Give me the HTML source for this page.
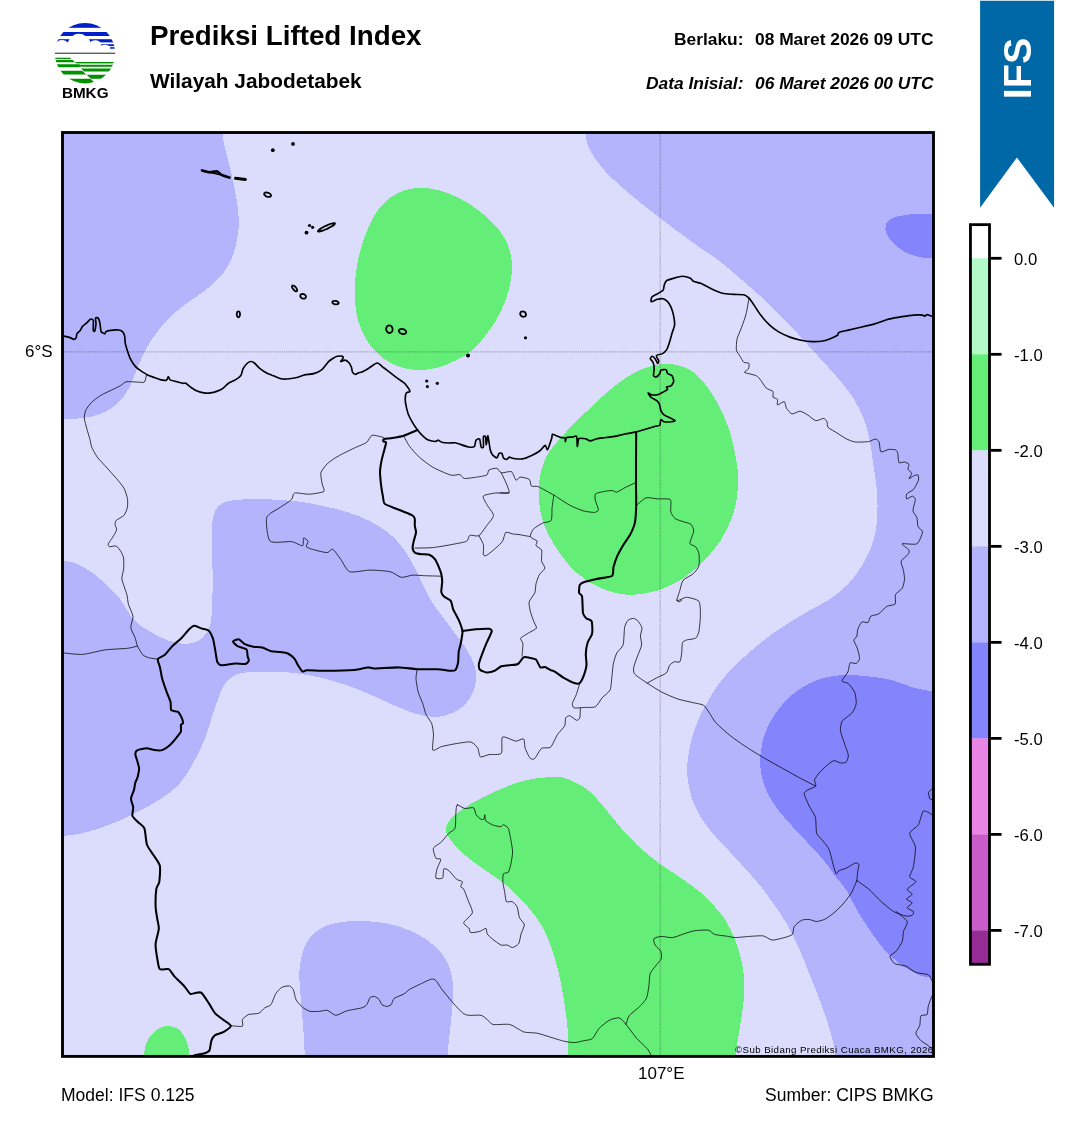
<!DOCTYPE html>
<html><head><meta charset="utf-8">
<style>
html,body{margin:0;padding:0;background:#fff;}
body{width:1068px;height:1128px;position:relative;overflow:hidden;font-family:"Liberation Sans",sans-serif;color:#000;}
.t{position:absolute;white-space:nowrap;line-height:1;will-change:transform;}
#map{will-change:transform;}
#map{position:absolute;left:0;top:0;}
</style></head><body>
<svg id="map" width="1068" height="1128" viewBox="0 0 1068 1128">
<defs><clipPath id="cp"><rect x="62" y="132" width="872" height="924"/></clipPath></defs>
<g clip-path="url(#cp)" shape-rendering="geometricPrecision">
<rect x="62" y="132" width="872" height="924" fill="#dcdcfc"/>
<path d="M40.0,100.0 C70.3,46.8 191.6,94.2 222.0,100.0 C252.4,105.8 222.0,125.8 222.7,134.5 C223.4,143.2 224.6,145.8 226.1,152.5 C227.6,159.2 230.0,167.4 231.7,174.9 C233.4,182.4 235.0,189.9 236.2,197.4 C237.4,204.9 238.7,213.2 238.9,219.9 C239.1,226.7 238.3,231.9 237.3,237.9 C236.3,243.9 235.2,249.8 232.8,255.8 C230.4,261.8 227.2,268.1 222.7,273.8 C218.2,279.5 211.8,285.0 206.0,289.8 C200.2,294.6 194.0,298.0 188.0,302.5 C182.0,307.0 175.3,312.0 170.1,317.0 C164.9,322.0 160.3,327.8 156.6,332.7 C152.8,337.6 150.2,341.7 147.6,346.2 C145.0,350.7 142.9,355.2 140.9,359.7 C138.9,364.2 137.2,368.6 135.3,373.1 C133.4,377.6 131.9,382.3 129.7,386.6 C127.4,390.9 124.8,395.4 121.8,399.0 C118.8,402.6 115.6,405.4 111.7,408.0 C107.8,410.6 103.1,413.0 98.2,414.7 C93.3,416.4 88.2,417.4 82.5,418.1 C76.8,418.9 71.1,419.0 64.0,419.2 C56.9,419.4 44.0,472.7 40.0,419.5 C36.0,366.3 9.7,153.2 40.0,100.0Z" fill="#b4b4fc" shape-rendering="crispEdges"/>
<path d="M585.0,100.0 C521.0,105.6 584.9,125.3 585.7,133.6 C586.5,141.9 586.8,143.8 590.0,150.0 C593.2,156.2 598.3,163.6 605.0,171.0 C611.7,178.4 621.2,186.7 630.4,194.5 C639.6,202.3 649.4,209.8 660.0,218.0 C670.6,226.2 684.3,236.4 694.0,243.4 C703.7,250.4 709.5,253.5 718.0,260.0 C726.5,266.5 736.7,275.4 744.9,282.5 C753.1,289.6 759.9,295.6 767.4,302.7 C774.9,309.8 782.4,317.3 789.9,325.2 C797.4,333.1 804.9,341.7 812.4,349.9 C819.9,358.1 828.1,366.7 834.8,374.6 C841.5,382.5 847.9,389.6 852.8,397.1 C857.7,404.6 861.2,412.5 864.0,419.6 C866.8,426.8 868.2,432.9 869.7,440.0 C871.2,447.1 871.9,455.0 873.0,462.5 C874.1,470.0 875.6,477.4 876.4,484.9 C877.1,492.4 877.6,499.9 877.5,507.4 C877.4,514.9 877.1,523.1 876.0,529.9 C874.9,536.6 873.2,541.9 870.8,547.9 C868.4,553.9 865.5,559.8 861.8,565.8 C858.0,571.8 853.8,578.1 848.3,583.8 C842.8,589.5 834.9,595.6 828.5,600.0 C822.1,604.4 816.0,606.7 809.8,610.3 C803.6,613.9 797.3,617.6 791.1,621.5 C784.9,625.4 778.6,629.2 772.4,633.7 C766.1,638.2 759.9,643.4 753.6,648.7 C747.4,654.0 740.5,659.9 734.9,665.5 C729.3,671.1 724.4,676.5 719.9,682.4 C715.4,688.3 711.4,694.9 707.8,701.1 C704.2,707.4 701.1,713.6 698.4,719.9 C695.7,726.1 693.5,732.4 691.8,738.6 C690.1,744.8 688.9,751.7 688.1,757.3 C687.3,762.9 687.1,767.3 687.2,772.3 C687.4,777.3 687.8,781.9 689.0,787.3 C690.2,792.7 691.8,799.2 694.3,804.9 C696.8,810.6 700.3,816.6 703.7,821.7 C707.1,826.9 711.2,831.4 714.9,835.8 C718.6,840.2 722.4,843.8 726.1,847.9 C729.9,852.0 733.6,856.0 737.4,860.1 C741.1,864.2 744.9,868.1 748.6,872.3 C752.4,876.5 756.0,880.5 759.9,885.4 C763.8,890.3 767.5,895.2 772.0,901.6 C776.5,908.0 782.4,916.0 786.9,923.9 C791.4,931.8 795.6,940.5 799.3,948.8 C803.0,957.1 805.9,965.3 809.2,973.6 C812.5,981.9 816.0,990.1 819.1,998.4 C822.2,1006.7 825.3,1015.3 827.8,1023.2 C830.3,1031.1 832.8,1040.3 834.0,1045.6 C835.2,1050.9 835.0,1047.6 835.3,1055.0 C835.6,1062.4 813.5,1084.2 836.0,1090.0 C858.5,1095.8 947.7,1255.0 970.0,1090.0 C992.3,925.0 1034.2,265.0 970.0,100.0 C905.8,-65.0 649.0,94.4 585.0,100.0Z" fill="#b4b4fc" shape-rendering="crispEdges"/>
<path d="M960.0,213.9 C955.4,206.6 939.8,213.9 932.2,213.9 C924.6,213.9 918.9,213.7 914.3,213.9 C909.7,214.1 907.6,214.9 904.7,215.3 C901.8,215.7 898.8,216.0 896.7,216.5 C894.6,217.0 893.4,217.5 891.9,218.3 C890.4,219.1 888.9,220.0 887.9,221.1 C886.9,222.2 886.3,223.9 885.9,225.1 C885.5,226.3 885.5,227.4 885.5,228.5 C885.5,229.6 885.4,230.1 885.9,231.5 C886.4,232.9 887.2,235.2 888.3,237.1 C889.4,239.0 891.0,241.0 892.7,242.7 C894.4,244.4 896.3,246.0 898.3,247.5 C900.3,249.0 902.4,250.6 904.7,251.8 C907.0,253.1 909.5,254.1 911.9,255.0 C914.3,255.9 916.9,256.5 919.1,257.0 C921.4,257.5 923.2,257.6 925.4,257.8 C927.6,258.0 926.4,258.0 932.2,258.0 C938.0,258.0 955.4,265.4 960.0,258.0 C964.6,250.7 964.6,221.2 960.0,213.9Z" fill="#8484fc" shape-rendering="crispEdges"/>
<path d="M970.0,700.0 C963.8,651.6 942.0,693.8 932.6,691.7 C923.2,689.6 920.4,689.6 913.5,687.6 C906.6,685.6 898.5,681.7 891.0,679.8 C883.5,677.9 875.8,677.2 868.5,676.4 C861.2,675.6 854.0,675.1 847.3,675.2 C840.6,675.3 834.8,675.4 828.5,676.8 C822.2,678.1 816.0,680.2 809.8,683.3 C803.6,686.4 796.7,690.6 791.1,695.5 C785.5,700.4 780.3,706.5 776.1,712.4 C771.9,718.3 768.3,724.9 765.8,731.1 C763.3,737.3 762.0,744.2 761.1,749.8 C760.2,755.4 759.9,759.5 760.2,764.8 C760.5,770.1 761.5,776.3 763.0,781.6 C764.5,786.9 766.9,791.7 769.5,796.5 C772.1,801.3 775.2,806.0 778.6,810.5 C782.0,815.0 785.8,819.1 789.8,823.6 C793.8,828.1 798.5,832.9 802.9,837.6 C807.3,842.3 811.9,847.2 816.0,851.7 C820.1,856.2 823.9,860.4 827.3,864.8 C830.7,869.2 833.4,873.7 836.6,877.9 C839.8,882.1 843.1,884.8 846.4,890.0 C849.7,895.2 852.7,902.6 856.4,909.1 C860.1,915.6 864.2,922.3 868.8,928.9 C873.3,935.5 878.3,942.8 883.7,948.8 C889.1,954.8 895.2,960.6 901.0,964.9 C906.8,969.2 913.2,972.6 918.4,974.8 C923.6,976.9 923.5,976.6 932.1,977.8 C940.7,979.0 963.7,1028.3 970.0,982.0 C976.3,935.7 976.2,748.4 970.0,700.0Z" fill="#8484fc" shape-rendering="crispEdges"/>
<path d="M40.0,560.0 C44.0,514.0 58.4,560.9 64.0,561.3 C69.6,561.7 69.7,561.2 73.5,562.5 C77.3,563.8 82.5,566.4 87.0,569.2 C91.5,572.0 95.9,575.4 100.4,579.3 C104.9,583.2 110.5,589.3 113.9,592.8 C117.3,596.2 117.3,595.4 120.7,600.0 C124.1,604.6 129.3,615.0 134.2,620.2 C139.1,625.5 144.3,628.1 149.9,631.5 C155.5,634.9 162.3,638.4 167.9,640.4 C173.5,642.4 178.7,643.6 183.6,643.8 C188.5,644.0 193.3,643.3 197.1,641.6 C200.8,639.9 203.8,636.9 206.1,633.7 C208.3,630.5 209.5,628.1 210.6,622.5 C211.7,616.9 212.1,611.7 212.4,600.0 C212.7,588.3 212.5,564.1 212.4,552.4 C212.3,540.7 211.4,536.3 211.7,529.9 C211.9,523.5 212.6,518.3 213.9,514.2 C215.2,510.1 216.8,507.4 219.6,505.2 C222.4,502.9 225.6,501.7 230.8,500.7 C236.0,499.7 243.9,499.3 251.0,499.1 C258.1,498.9 264.9,499.1 273.5,499.6 C282.1,500.1 293.9,500.9 302.5,502.0 C311.1,503.1 317.4,504.8 324.9,506.5 C332.4,508.2 339.9,509.7 347.4,512.1 C354.9,514.5 363.1,517.7 369.9,521.1 C376.6,524.5 382.7,528.3 387.9,532.4 C393.1,536.5 397.2,540.6 401.3,545.8 C405.4,551.0 408.9,557.0 412.6,563.8 C416.4,570.5 420.8,580.3 423.8,586.3 C426.8,592.3 427.6,595.1 430.6,600.0 C433.6,604.9 437.7,610.1 441.8,615.7 C445.9,621.3 451.2,628.1 455.3,633.7 C459.4,639.3 463.3,644.1 466.5,649.4 C469.7,654.6 472.8,660.0 474.4,665.2 C476.0,670.5 476.6,675.7 476.0,680.9 C475.4,686.1 473.7,691.9 471.0,696.6 C468.3,701.3 463.9,705.9 459.8,709.0 C455.7,712.1 450.8,713.8 446.3,715.1 C441.8,716.4 438.1,717.2 432.8,716.9 C427.6,716.6 421.5,715.6 414.8,713.5 C408.1,711.4 399.9,707.7 392.4,704.5 C384.9,701.3 377.4,697.6 369.9,694.4 C362.4,691.2 354.9,688.0 347.4,685.4 C339.9,682.8 332.4,680.6 324.9,678.7 C317.4,676.8 310.0,675.3 302.5,674.2 C295.0,673.1 289.3,672.2 280.0,671.9 C270.7,671.6 254.3,671.6 246.5,672.4 C238.7,673.1 236.8,674.2 233.0,676.4 C229.2,678.6 226.6,681.3 224.0,685.4 C221.4,689.5 219.5,695.1 217.3,701.1 C215.1,707.1 212.8,714.5 210.6,721.3 C208.3,728.0 206.8,734.5 203.8,741.6 C200.8,748.7 196.7,756.9 192.6,764.0 C188.5,771.1 184.5,778.4 179.1,784.3 C173.7,790.2 167.6,794.3 160.2,799.2 C152.8,804.1 142.9,809.2 134.5,813.5 C126.1,817.8 117.9,821.5 109.6,824.7 C101.3,827.9 92.3,830.8 84.8,832.6 C77.3,834.5 72.0,835.1 64.5,835.8 C57.0,836.5 44.1,883.0 40.0,837.0 C35.9,791.0 36.0,606.0 40.0,560.0Z" fill="#b4b4fc" shape-rendering="crispEdges"/>
<path d="M305.0,1090.0 C281.5,1084.2 305.2,1067.4 304.8,1055.0 C304.4,1042.6 303.2,1028.5 302.3,1015.8 C301.4,1003.1 299.6,988.1 299.4,978.6 C299.2,969.1 299.8,964.9 301.1,958.7 C302.4,952.5 304.2,946.3 307.3,941.3 C310.4,936.3 314.7,932.0 319.7,928.9 C324.7,925.8 330.1,924.0 337.1,922.7 C344.1,921.4 353.6,920.9 361.9,921.0 C370.2,921.1 378.8,922.0 386.7,923.5 C394.6,925.0 402.1,927.2 409.1,930.2 C416.1,933.2 423.1,937.0 428.9,941.3 C434.7,945.6 440.1,950.8 443.8,956.2 C447.5,961.6 449.7,967.4 451.3,973.6 C452.9,979.8 453.2,986.0 453.2,993.4 C453.2,1000.8 452.2,1008.0 451.3,1018.3 C450.4,1028.6 448.4,1043.0 447.5,1055.0 C446.6,1067.0 469.8,1084.2 446.0,1090.0 C422.2,1095.8 328.5,1095.8 305.0,1090.0Z" fill="#b4b4fc" shape-rendering="crispEdges"/>
<path d="M420.9,188.0 C415.3,188.0 410.4,188.5 405.2,190.2 C399.9,191.9 394.3,194.3 389.4,198.1 C384.5,201.8 379.7,207.3 376.0,212.7 C372.3,218.1 369.6,224.3 367.0,230.7 C364.4,237.1 362.0,244.2 360.2,250.9 C358.4,257.6 357.1,264.4 356.2,271.1 C355.3,277.8 354.6,284.6 354.6,291.3 C354.6,298.1 355.1,305.2 356.2,311.6 C357.3,318.0 358.9,324.0 361.3,329.6 C363.7,335.2 366.6,340.4 370.3,345.3 C374.1,350.2 378.7,355.1 383.8,358.8 C388.9,362.5 394.9,365.4 400.7,367.3 C406.5,369.2 412.7,369.9 418.7,370.0 C424.7,370.1 430.6,369.3 436.6,367.8 C442.6,366.3 448.6,364.0 454.6,361.0 C460.6,358.0 467.0,354.7 472.6,349.8 C478.2,344.9 483.6,338.2 488.3,331.8 C493.0,325.4 497.3,318.4 500.7,311.6 C504.1,304.9 506.6,298.1 508.5,291.3 C510.4,284.6 511.6,277.5 511.9,271.1 C512.2,264.7 511.6,258.7 510.3,253.1 C509.0,247.5 506.9,242.4 504.0,237.4 C501.1,232.4 497.3,227.5 492.8,222.8 C488.3,218.1 482.7,213.4 477.1,209.3 C471.5,205.2 465.5,201.3 459.1,198.1 C452.7,194.9 445.3,191.9 438.9,190.2 C432.5,188.5 426.5,188.0 420.9,188.0Z" fill="#64ee78" shape-rendering="crispEdges"/>
<path d="M666.5,363.8 C662.4,363.7 660.2,364.0 655.3,365.2 C650.4,366.4 644.0,367.8 637.3,371.2 C630.5,374.6 622.3,380.0 614.8,385.8 C607.3,391.6 598.4,400.5 592.4,406.0 C586.4,411.5 583.3,414.7 578.9,419.0 C574.5,423.3 569.6,428.2 566.0,432.0 C562.4,435.8 559.8,438.7 557.0,442.0 C554.2,445.3 551.1,448.7 549.0,452.0 C546.9,455.3 545.7,458.0 544.2,462.0 C542.7,466.0 540.9,470.7 540.0,476.0 C539.1,481.3 538.6,487.5 538.7,493.9 C538.9,500.3 539.3,507.5 540.9,514.2 C542.5,521.0 545.0,527.7 548.3,534.4 C551.6,541.1 556.0,548.2 560.7,554.6 C565.4,561.0 570.4,567.4 576.4,572.6 C582.4,577.9 589.9,582.7 596.6,586.1 C603.4,589.5 610.5,591.9 616.9,593.3 C623.3,594.7 628.1,595.0 634.8,594.6 C641.5,594.2 649.8,593.0 657.3,590.6 C664.8,588.2 672.3,585.1 679.8,580.4 C687.3,575.7 695.5,569.0 702.2,562.5 C708.9,556.0 715.3,548.4 720.2,541.1 C725.1,533.8 728.7,526.2 731.5,518.7 C734.3,511.2 736.1,503.7 737.1,496.2 C738.1,488.7 738.0,480.1 737.8,473.7 C737.6,467.3 736.8,464.0 735.8,458.0 C734.8,452.0 733.7,445.0 731.5,437.5 C729.3,430.0 725.9,420.3 722.5,412.8 C719.1,405.3 715.0,398.4 711.2,392.6 C707.5,386.8 703.5,381.8 700.0,378.0 C696.5,374.2 693.3,372.0 690.0,370.0 C686.7,368.0 683.9,366.8 680.0,365.8 C676.1,364.8 670.6,363.9 666.5,363.8Z" fill="#64ee78" shape-rendering="crispEdges"/>
<path d="M445.8,827.2 C446.6,823.7 449.5,819.9 453.7,816.0 C457.9,812.1 464.1,807.7 471.1,803.6 C478.1,799.5 487.3,795.0 495.9,791.2 C504.5,787.4 514.3,783.3 522.5,781.0 C530.7,778.7 538.2,778.1 544.9,777.5 C551.6,776.9 557.6,776.6 562.9,777.5 C568.1,778.4 572.0,780.8 576.4,783.1 C580.8,785.4 584.7,787.2 589.3,791.2 C593.9,795.2 599.2,801.5 604.2,807.3 C609.2,813.1 613.7,819.7 619.1,825.9 C624.5,832.1 629.9,838.3 636.5,844.5 C643.1,850.7 651.3,857.5 658.8,863.1 C666.2,868.7 674.2,873.0 681.2,878.0 C688.2,883.0 695.8,888.5 701.0,892.9 C706.2,897.2 708.4,899.8 712.4,904.1 C716.4,908.5 721.1,913.2 724.8,919.0 C728.5,924.8 732.0,932.2 734.7,938.8 C737.4,945.4 739.4,952.1 741.0,958.7 C742.6,965.3 743.8,971.2 744.2,978.6 C744.6,986.0 744.1,995.1 743.4,1003.4 C742.6,1011.7 740.9,1019.6 739.7,1028.2 C738.5,1036.8 736.7,1044.7 736.0,1055.0 C735.3,1065.3 763.5,1084.2 735.5,1090.0 C707.5,1095.8 596.2,1095.8 568.3,1090.0 C540.4,1084.2 568.3,1063.7 568.3,1055.0 C568.3,1046.3 568.6,1044.2 568.3,1038.1 C568.0,1032.0 567.3,1025.3 566.5,1018.3 C565.7,1011.3 564.7,1003.8 563.3,995.9 C561.9,988.0 560.4,979.4 558.3,971.1 C556.2,962.8 553.6,953.8 550.9,946.3 C548.2,938.8 545.7,932.6 542.2,926.4 C538.7,920.2 534.3,914.7 529.8,909.1 C525.2,903.5 520.1,897.9 514.9,892.9 C509.7,887.9 504.4,883.8 498.4,879.3 C492.3,874.8 484.8,870.1 478.6,865.6 C472.4,861.1 466.2,856.8 461.2,852.0 C456.2,847.2 451.4,841.2 448.8,837.1 C446.2,833.0 445.0,830.7 445.8,827.2Z" fill="#64ee78" shape-rendering="crispEdges"/>
<path d="M144.4,1090.0 C137.0,1084.2 144.2,1062.4 144.4,1055.0 C144.6,1047.6 144.6,1048.8 145.6,1045.6 C146.6,1042.4 148.3,1038.5 150.6,1035.6 C152.9,1032.7 156.4,1029.8 159.3,1028.2 C162.2,1026.6 164.9,1026.1 168.0,1026.2 C171.1,1026.3 175.0,1026.7 177.9,1028.7 C180.8,1030.7 183.5,1034.9 185.3,1038.1 C187.1,1041.3 188.0,1045.2 188.6,1048.0 C189.2,1050.8 189.0,1048.0 189.1,1055.0 C189.2,1062.0 196.5,1084.2 189.1,1090.0 C181.7,1095.8 151.8,1095.8 144.4,1090.0Z" fill="#64ee78" shape-rendering="crispEdges"/>

<path d="M60.0,335.5 C60.4,335.6 62.9,335.9 64.0,336.1 C65.1,336.3 69.0,337.2 70.1,337.6 C71.2,338.0 73.2,339.4 73.9,339.4 C74.6,339.4 75.9,338.2 76.2,337.6 C76.5,337.0 76.5,334.6 76.9,333.8 C77.3,333.0 79.6,331.2 80.2,330.4 C80.8,329.6 81.7,327.3 82.5,326.4 C83.3,325.5 86.1,323.4 87.0,322.6 C87.9,321.8 89.6,319.5 90.3,319.2 C91.0,318.9 93.0,319.1 93.3,320.3 C93.6,321.5 93.1,329.2 93.3,330.4 C93.5,331.6 94.5,331.6 94.8,330.9 C95.1,330.2 95.9,325.1 96.0,323.7 C96.1,322.3 95.3,318.7 95.5,318.1 C95.7,317.5 97.7,317.5 98.2,318.1 C98.7,318.7 99.7,322.2 100.0,323.7 C100.3,325.2 100.6,330.5 101.1,331.6 C101.6,332.7 104.4,333.8 104.9,333.8 C105.4,333.8 105.4,332.0 106.0,331.6 C106.6,331.2 109.2,330.6 110.6,330.4 C112.0,330.2 117.1,329.9 118.4,330.0 C119.7,330.1 121.8,330.9 122.5,331.6 C123.2,332.3 124.4,334.9 124.7,336.1 C125.0,337.3 124.9,341.2 125.2,342.8 C125.5,344.4 126.8,348.8 127.4,350.7 C128.0,352.6 129.9,358.0 130.8,359.7 C131.7,361.4 134.2,365.2 135.3,366.4 C136.4,367.6 139.5,370.0 140.9,370.9 C142.3,371.8 146.1,374.2 147.6,374.9 C149.1,375.6 152.9,377.0 154.4,377.6 C155.9,378.2 159.7,379.6 161.1,379.9 C162.5,380.2 165.9,380.3 166.7,379.9 C167.5,379.5 167.9,376.5 168.3,376.5 C168.7,376.5 169.1,379.3 170.1,379.9 C171.1,380.5 175.5,381.3 176.9,381.7 C178.3,382.1 182.1,383.1 183.1,383.3 C184.1,383.5 184.9,382.8 185.8,383.3 C186.7,383.8 190.2,386.9 191.5,387.8 C192.8,388.7 195.7,390.5 197.1,391.1 C198.5,391.7 202.3,392.7 203.8,392.9 C205.3,393.1 209.1,393.1 210.6,392.9 C212.1,392.7 215.9,391.6 217.3,391.1 C218.7,390.6 221.7,389.3 222.9,388.4 C224.1,387.5 227.1,384.2 228.5,383.3 C229.9,382.4 233.9,380.8 235.3,379.9 C236.7,379.0 240.0,376.6 240.9,375.4 C241.8,374.2 242.4,370.1 243.1,368.7 C243.8,367.3 246.7,363.8 247.6,363.0 C248.5,362.2 250.2,361.5 251.0,361.5 C251.8,361.5 253.4,362.2 254.4,363.0 C255.4,363.8 258.6,367.6 260.0,368.7 C261.4,369.8 265.2,372.3 266.7,373.1 C268.2,373.9 271.9,375.2 273.5,375.8 C275.1,376.4 279.6,378.5 281.3,378.8 C283.0,379.1 287.3,379.0 289.2,378.8 C291.1,378.6 296.3,377.6 298.0,377.2 C299.7,376.8 303.0,375.3 304.7,374.9 C306.4,374.5 311.8,374.2 313.7,373.6 C315.6,373.0 320.0,371.1 321.6,369.8 C323.2,368.5 327.1,363.2 328.3,361.9 C329.5,360.6 331.8,359.1 332.8,358.5 C333.8,357.9 336.2,356.5 337.3,356.3 C338.4,356.1 341.9,356.1 342.5,356.3 C343.1,356.5 343.1,357.9 342.9,358.5 C342.7,359.1 340.4,361.3 340.7,361.5 C341.0,361.7 344.3,359.9 345.2,360.1 C346.1,360.3 348.5,362.2 349.2,363.0 C349.9,363.8 351.1,366.5 351.5,367.5 C351.9,368.5 352.0,371.2 352.4,372.0 C352.8,372.8 354.6,374.2 355.3,374.3 C356.0,374.4 358.0,373.0 358.7,372.7 C359.4,372.4 360.9,372.5 362.0,372.0 C363.1,371.5 367.1,369.2 368.8,368.2 C370.5,367.2 375.5,363.1 377.1,363.0 C378.7,362.9 381.7,366.2 383.4,367.5 C385.1,368.8 390.7,373.0 392.4,374.3 C394.1,375.6 397.7,378.4 399.1,379.4 C400.5,380.4 403.7,382.4 404.7,383.3 C405.7,384.2 407.5,386.9 408.1,387.8 C408.7,388.7 410.1,391.0 409.9,391.6 C409.7,392.2 406.8,392.1 406.3,392.9 C405.8,393.7 405.2,397.4 405.2,399.0 C405.2,400.6 405.9,405.2 406.3,406.9 C406.7,408.6 407.8,413.0 408.5,414.7 C409.2,416.4 411.6,420.9 412.6,422.6 C413.6,424.3 416.3,428.4 417.5,430.0 C418.7,431.6 422.6,435.8 423.8,436.9 C425.0,438.0 427.0,439.6 428.3,440.1 C429.6,440.6 434.0,441.5 435.1,441.5 C436.2,441.5 437.7,440.1 438.4,440.2 C439.1,440.3 440.7,441.9 441.8,442.2 C442.9,442.5 447.0,442.9 448.5,443.0 C450.0,443.1 453.9,442.6 455.3,442.8 C456.7,443.0 459.4,444.1 460.9,444.6 C462.4,445.1 467.3,446.8 468.8,447.0 C470.3,447.2 473.6,447.3 474.4,446.5 C475.2,445.7 475.4,441.0 476.0,440.2 C476.6,439.4 479.0,438.3 479.6,439.1 C480.2,439.9 480.7,446.1 481.1,447.0 C481.5,447.9 483.1,448.1 483.4,447.0 C483.7,445.9 483.2,438.0 483.4,436.9 C483.6,435.8 485.3,436.0 485.6,436.9 C485.9,437.8 486.0,444.8 486.3,444.7 C486.6,444.6 487.5,435.2 487.9,435.7 C488.3,436.2 489.6,447.1 490.1,449.2 C490.6,451.3 491.6,453.8 492.4,454.8 C493.2,455.8 496.2,458.0 496.9,457.8 C497.6,457.6 498.5,453.8 499.1,453.3 C499.7,452.8 501.5,453.2 502.0,453.7 C502.5,454.2 503.0,457.6 503.6,458.2 C504.2,458.8 506.4,459.4 507.0,459.3 C507.6,459.2 508.5,457.2 509.2,457.1 C509.9,457.0 512.2,458.3 513.7,458.5 C515.2,458.7 520.7,459.2 522.7,458.9 C524.7,458.6 529.8,456.4 531.7,455.5 C533.6,454.6 538.1,452.1 539.6,451.0 C541.1,449.9 544.3,445.5 545.2,445.4 C546.1,445.3 546.9,450.0 547.4,449.9 C547.9,449.8 549.2,445.7 549.7,444.3 C550.2,442.9 551.6,438.6 551.9,437.5 C552.2,436.4 551.9,434.4 552.4,434.2 C552.9,434.0 555.5,435.3 556.4,435.7 C557.3,436.1 560.0,437.2 560.9,437.5 C561.8,437.8 564.4,437.5 564.9,438.0 C565.4,438.5 565.2,441.7 565.4,441.6 C565.6,441.5 565.8,438.0 566.5,437.5 C567.2,437.0 571.0,437.2 572.1,437.1 C573.2,437.0 576.0,435.4 576.6,436.4 C577.2,437.4 577.0,446.2 577.3,446.5 C577.6,446.8 578.0,439.6 578.9,438.7 C579.8,437.8 584.4,438.5 585.6,438.7 C586.8,438.9 588.8,440.9 590.1,440.9 C591.4,440.9 595.2,439.1 596.9,438.7 C598.6,438.3 603.8,437.8 605.8,437.5 C607.8,437.2 612.8,436.8 614.8,436.4 C616.8,436.0 621.4,434.7 623.8,434.2 C626.2,433.7 633.7,432.5 636.2,431.9 C638.7,431.3 644.2,429.6 646.3,429.0 C648.4,428.4 653.8,426.7 655.3,426.3 C656.8,425.9 659.2,425.9 659.8,425.2 C660.4,424.5 660.4,420.0 660.9,419.6 C661.4,419.2 663.2,421.6 664.3,421.8 C665.4,422.0 669.8,421.9 671.0,421.8 C672.2,421.7 675.2,421.1 675.1,420.7 C675.0,420.3 671.1,418.4 669.9,417.8 C668.7,417.2 665.3,415.9 664.3,415.1 C663.3,414.3 661.5,411.9 660.9,410.6 C660.3,409.3 659.8,404.9 659.3,403.8 C658.8,402.7 657.3,401.1 656.4,400.4 C655.5,399.7 651.7,397.9 650.8,397.1 C649.9,396.3 648.1,393.3 648.1,393.0 C648.1,392.7 650.2,394.6 651.2,394.8 C652.2,395.0 656.2,395.1 657.5,394.8 C658.8,394.5 662.0,392.7 663.1,392.1 C664.2,391.5 667.2,389.8 667.6,389.2 C668.0,388.6 666.1,387.4 666.5,387.0 C666.9,386.6 670.2,386.4 671.0,385.8 C671.8,385.2 673.6,382.4 673.7,381.3 C673.8,380.2 672.8,376.6 672.1,375.7 C671.4,374.8 668.3,374.2 667.6,373.5 C666.9,372.8 666.8,370.1 666.1,369.7 C665.4,369.3 661.6,369.7 660.9,370.1 C660.2,370.5 660.3,372.7 659.8,373.5 C659.3,374.3 657.1,376.7 656.4,376.9 C655.7,377.1 653.7,376.7 653.5,375.7 C653.3,374.7 654.3,369.4 654.2,367.9 C654.1,366.4 653.4,363.2 653.0,362.2 C652.6,361.2 650.4,359.6 650.3,358.9 C650.2,358.2 651.3,356.2 651.9,356.2 C652.5,356.2 654.7,358.1 655.3,358.9 C655.9,359.7 657.1,363.2 657.5,363.4 C657.9,363.6 658.8,362.0 658.7,361.1 C658.6,360.2 656.0,356.3 656.4,355.5 C656.8,354.7 660.9,354.5 662.0,353.9 C663.1,353.3 665.6,351.3 666.5,349.9 C667.4,348.5 669.3,342.8 669.9,340.9 C670.5,339.0 671.6,334.7 672.1,333.0 C672.6,331.3 674.4,327.1 674.6,325.2 C674.8,323.3 674.1,318.2 673.7,316.2 C673.3,314.2 671.7,308.8 671.0,307.2 C670.3,305.6 668.5,302.5 667.6,301.6 C666.7,300.7 664.2,299.0 663.1,298.7 C662.0,298.4 658.8,299.0 657.5,299.3 C656.2,299.6 651.8,301.8 651.2,301.6 C650.6,301.4 651.2,298.0 651.9,297.1 C652.6,296.2 656.3,294.5 657.5,293.7 C658.7,292.9 662.3,291.3 663.1,290.3 C663.9,289.3 663.9,285.8 664.3,284.7 C664.7,283.6 665.5,281.4 666.5,280.7 C667.5,280.0 671.6,278.9 673.3,278.4 C675.0,277.9 680.3,276.2 682.2,276.2 C684.1,276.2 688.8,277.4 690.1,278.0 C691.4,278.6 692.3,280.7 693.5,281.3 C694.7,281.9 699.3,282.8 701.3,283.6 C703.3,284.4 708.8,287.7 711.2,288.8 C713.6,289.9 720.0,292.7 722.5,293.3 C725.0,293.9 731.3,294.2 733.7,294.4 C736.1,294.6 742.1,294.4 743.8,294.8 C745.5,295.2 747.9,297.1 749.0,298.2 C750.1,299.3 752.6,303.0 753.9,304.9 C755.2,306.8 758.9,312.8 760.7,315.1 C762.5,317.4 767.7,323.3 769.7,325.2 C771.7,327.1 776.5,330.6 778.7,331.9 C780.9,333.2 787.4,336.2 789.9,337.1 C792.4,338.0 798.6,339.7 801.1,340.2 C803.6,340.7 810.2,341.5 812.4,341.6 C814.6,341.7 819.3,341.6 821.3,341.3 C823.3,341.0 828.5,339.4 830.3,338.7 C832.1,338.0 836.5,336.0 837.5,335.3 C838.5,334.6 837.7,333.0 838.9,332.4 C840.1,331.8 845.8,330.7 848.3,330.1 C850.8,329.5 858.8,327.7 861.8,327.0 C864.8,326.3 872.3,324.5 875.3,323.6 C878.3,322.7 885.8,319.9 888.8,319.1 C891.8,318.3 899.5,317.0 902.2,316.6 C904.9,316.2 911.2,315.3 913.5,315.1 C915.8,314.9 921.3,315.0 922.5,315.1 C923.7,315.2 924.2,316.3 924.7,316.2 C925.2,316.1 926.2,314.6 927.0,314.6 C927.8,314.6 930.9,316.0 931.9,316.2 C932.9,316.4 935.5,316.5 936.0,316.5" fill="none" stroke="#000" stroke-width="1.65" stroke-linejoin="round" stroke-linecap="round"/>
<path d="M417.5,430.1 C416.0,430.7 406.4,434.8 403.6,435.7 C400.8,436.6 394.6,437.6 392.4,438.0 C390.2,438.4 384.8,438.7 383.8,439.1 C382.8,439.5 383.1,440.9 383.4,441.3 C383.7,441.7 386.0,441.6 386.1,442.5 C386.2,443.4 385.0,447.2 384.5,449.2 C384.0,451.2 382.1,457.9 381.6,460.4 C381.1,462.9 380.1,468.9 380.0,471.7 C379.9,474.5 380.8,482.5 381.1,485.2 C381.4,487.9 382.5,494.4 382.9,496.4 C383.3,498.4 383.4,502.4 384.5,503.6 C385.6,504.8 390.3,506.3 392.4,507.2 C394.5,508.1 401.4,510.8 403.6,511.7 C405.8,512.6 411.4,514.7 412.6,515.5 C413.8,516.3 414.6,517.8 414.8,518.9 C415.0,520.0 414.7,524.1 414.8,525.6 C414.9,527.1 416.1,530.7 416.0,532.4 C415.9,534.1 414.1,539.6 413.7,541.3 C413.3,543.0 412.5,546.8 412.6,548.1 C412.7,549.4 413.8,551.9 414.8,552.6 C415.8,553.3 420.0,554.0 421.6,554.2 C423.2,554.4 427.9,554.2 429.4,554.8 C430.9,555.4 434.1,558.0 435.1,559.3 C436.1,560.6 437.7,564.5 438.4,566.1 C439.1,567.7 440.9,572.2 441.3,573.9 C441.7,575.6 442.2,579.8 442.2,581.8 C442.2,583.8 441.1,590.3 441.3,591.9 C441.5,593.5 442.9,595.4 444.0,596.4 C445.1,597.4 449.8,599.5 450.8,600.9 C451.8,602.3 452.4,607.2 453.0,608.8 C453.6,610.4 455.6,614.0 456.4,615.5 C457.2,617.0 459.1,620.7 459.8,622.5 C460.5,624.3 462.4,629.3 462.5,631.5 C462.6,633.7 461.3,640.5 460.9,642.7 C460.5,644.9 459.0,649.5 458.7,651.7 C458.4,653.9 458.4,660.9 458.0,662.9 C457.6,664.9 456.1,669.2 455.3,670.1 C454.5,671.0 452.8,670.9 450.8,670.8 C448.8,670.7 441.0,669.4 437.3,669.2 C433.6,669.0 421.3,669.4 417.1,669.2 C412.9,669.0 403.8,667.5 399.1,667.4 C394.4,667.3 377.9,668.5 374.4,668.5 C370.9,668.5 369.8,667.2 367.6,667.4 C365.4,667.6 358.9,669.7 354.2,670.1 C349.5,670.5 330.1,670.8 324.9,670.8 C319.7,670.8 309.5,670.2 307.0,670.3 C304.5,670.4 303.5,672.1 302.5,671.5 C301.5,670.9 298.9,666.6 298.0,665.2 C297.1,663.8 295.7,660.2 294.6,658.9 C293.5,657.6 289.5,654.3 287.9,653.5 C286.3,652.7 281.9,652.4 280.0,652.1 C278.1,651.8 273.2,651.7 271.2,651.2 C269.2,650.7 264.2,648.1 262.2,647.6 C260.2,647.1 255.3,647.1 253.3,646.7 C251.3,646.3 245.9,644.6 244.3,643.8 C242.7,643.0 240.0,639.5 238.7,639.3 C237.4,639.1 233.1,640.8 233.0,641.6 C232.9,642.4 236.0,645.2 237.5,646.1 C239.0,647.0 245.4,648.3 246.5,649.4 C247.6,650.5 247.3,654.9 247.6,656.2 C247.9,657.5 249.0,659.8 248.8,660.7 C248.6,661.6 246.9,663.7 245.4,664.0 C243.9,664.3 237.9,663.5 235.3,663.6 C232.7,663.7 223.8,665.4 221.8,665.2 C219.8,665.0 218.0,663.6 217.3,661.8 C216.6,660.0 215.6,652.0 215.1,649.4 C214.6,646.8 213.6,640.3 212.8,638.2 C212.0,636.1 209.7,631.4 208.3,630.3 C206.9,629.2 201.9,628.6 200.4,628.1 C198.9,627.6 195.6,625.7 194.4,625.8 C193.2,625.9 190.7,627.8 189.2,629.2 C187.7,630.6 183.2,636.3 181.3,638.2 C179.4,640.1 174.3,644.2 172.4,646.1 C170.5,648.0 166.1,653.7 164.5,655.1 C162.9,656.5 158.3,657.7 157.8,659.1 C157.3,660.5 159.5,665.2 160.0,667.4 C160.5,669.6 161.5,676.0 162.2,678.7 C162.9,681.4 165.8,689.5 166.7,692.1 C167.6,694.7 170.1,700.2 170.6,702.2 C171.1,704.2 170.4,709.0 171.2,710.1 C172.0,711.2 176.9,711.1 178.0,711.9 C179.1,712.7 180.7,715.7 181.3,716.9 C181.9,718.1 183.1,722.2 183.1,723.1 C183.1,724.0 181.1,723.8 180.9,724.7 C180.7,725.6 181.3,730.1 180.9,731.5 C180.5,732.9 178.1,735.6 176.9,737.1 C175.7,738.6 171.7,743.5 170.1,744.9 C168.5,746.3 163.9,749.5 162.2,750.1 C160.5,750.7 156.1,750.3 154.4,750.1 C152.7,749.9 148.4,748.3 146.5,748.3 C144.6,748.3 138.7,749.5 137.5,750.1 C136.3,750.7 135.3,752.6 135.3,753.9 C135.3,755.2 137.1,760.2 137.5,761.8 C137.9,763.4 139.1,766.8 139.1,768.5 C139.1,770.2 137.9,775.9 137.5,777.5 C137.1,779.1 135.6,781.6 135.2,783.0 C134.8,784.4 134.5,788.2 134.0,789.9 C133.5,791.6 131.1,796.7 131.0,798.6 C130.9,800.5 133.0,805.4 133.2,807.3 C133.4,809.2 131.9,814.3 132.5,816.0 C133.1,817.7 136.9,820.8 138.2,822.2 C139.5,823.6 143.4,825.9 144.4,828.4 C145.4,830.9 145.9,841.6 146.9,844.5 C147.9,847.4 151.7,852.2 153.1,854.5 C154.5,856.8 159.1,862.6 159.8,865.6 C160.5,868.6 159.7,879.2 159.3,881.8 C158.9,884.4 156.7,886.4 156.3,889.2 C155.9,892.0 155.5,903.3 155.6,906.6 C155.7,909.9 156.9,916.5 157.3,919.0 C157.7,921.5 159.0,926.1 158.8,928.9 C158.6,931.7 155.8,940.5 155.6,943.8 C155.4,947.1 156.8,955.9 157.3,958.7 C157.8,961.5 158.5,967.9 159.8,969.1 C161.1,970.3 167.1,968.3 168.7,969.1 C170.3,969.9 172.5,974.2 174.2,976.1 C175.9,978.0 182.3,984.0 184.1,986.0 C185.9,988.0 189.1,993.1 190.3,993.9 C191.5,994.7 194.1,993.0 195.3,992.9 C196.5,992.8 200.0,991.7 201.5,992.9 C203.0,994.1 207.4,1001.1 208.9,1003.4 C210.4,1005.7 213.7,1011.6 215.1,1013.3 C216.5,1015.0 219.6,1016.9 221.3,1018.3 C223.0,1019.7 230.5,1024.2 230.8,1025.7 C231.1,1027.2 225.5,1030.9 223.8,1031.9 C222.1,1032.9 216.5,1034.1 215.1,1035.1 C213.7,1036.1 212.0,1038.9 211.4,1040.6 C210.8,1042.3 210.2,1049.1 209.4,1050.5 C208.6,1051.9 205.6,1053.0 204.0,1053.5 C202.4,1054.0 196.9,1054.5 195.3,1055.0 C193.7,1055.5 190.6,1057.7 190.0,1058.0" fill="none" stroke="#000" stroke-width="2.05" stroke-linejoin="round" stroke-linecap="round"/>
<path d="M462.5,631.0 C463.9,630.8 472.6,629.4 475.5,629.2 C478.4,629.0 487.2,628.5 489.0,628.8 C490.8,629.1 492.0,630.0 491.7,631.5 C491.4,633.0 487.8,640.2 486.7,642.7 C485.6,645.2 483.1,651.5 482.2,653.9 C481.3,656.3 479.1,662.2 478.9,664.0 C478.7,665.8 479.1,668.8 480.0,669.7 C480.9,670.6 485.1,672.3 486.7,672.4 C488.3,672.5 493.0,671.5 494.6,670.8 C496.2,670.1 499.7,666.9 501.3,666.3 C502.9,665.7 507.1,665.5 509.0,665.2 C510.9,664.9 516.4,664.9 518.0,664.0 C519.6,663.1 522.2,658.0 523.6,657.3 C525.0,656.6 528.9,657.7 530.3,658.0 C531.7,658.3 534.9,658.6 536.0,659.6 C537.1,660.6 539.4,666.6 540.4,667.4 C541.4,668.2 543.8,666.7 544.9,667.0 C546.0,667.3 549.5,669.6 550.6,670.1 C551.7,670.6 553.5,670.9 555.1,671.9 C556.7,672.9 563.1,677.5 565.2,678.7 C567.3,679.9 572.6,682.6 574.2,683.1 C575.8,683.6 578.7,684.1 579.8,683.1 C580.9,682.1 583.6,676.2 584.3,674.2 C585.0,672.2 586.3,667.5 586.5,665.2 C586.7,662.9 585.7,656.4 585.8,653.9 C585.9,651.4 586.9,644.9 587.6,642.7 C588.3,640.5 591.6,636.1 592.1,633.7 C592.6,631.3 592.3,623.0 591.7,621.3 C591.1,619.6 587.5,619.3 586.5,618.4 C585.5,617.5 583.5,614.6 583.1,613.5 C582.7,612.4 582.8,610.4 582.7,608.5 C582.6,606.6 582.4,597.9 582.0,596.2 C581.6,594.5 579.3,594.1 579.1,592.8 C578.9,591.5 579.2,586.1 579.8,584.9 C580.4,583.7 582.4,582.7 584.3,582.0 C586.2,581.3 593.5,579.6 596.6,578.9 C599.7,578.2 610.0,577.3 611.9,576.0 C613.8,574.7 612.9,569.1 613.5,567.0 C614.1,564.9 615.8,559.4 616.9,556.9 C618.0,554.4 622.1,547.0 623.6,544.5 C625.1,542.0 629.1,536.8 630.3,534.4 C631.5,532.0 634.1,526.3 634.8,523.1 C635.5,519.9 636.1,509.4 636.2,505.2 C636.3,501.0 636.0,489.6 636.0,484.9 C636.0,480.2 636.0,468.4 636.0,462.5 C636.0,456.6 636.2,435.3 636.2,431.9" fill="none" stroke="#000" stroke-width="2.05" stroke-linejoin="round" stroke-linecap="round"/>
<path d="M146.5,374.9 C146.3,375.7 145.3,381.3 144.3,382.1 C143.3,382.9 139.5,382.1 137.5,382.1 C135.5,382.1 128.2,381.3 126.3,381.7 C124.4,382.1 122.3,384.6 120.7,385.5 C119.1,386.4 114.0,388.9 111.7,390.0 C109.4,391.1 102.6,394.2 100.4,395.6 C98.2,397.0 93.1,400.8 91.5,402.4 C89.9,404.0 86.6,408.5 85.8,410.2 C85.0,411.9 84.2,416.0 84.3,418.1 C84.4,420.2 86.3,426.8 87.0,429.3 C87.7,431.8 89.8,438.7 90.3,440.6 C90.8,442.5 90.7,444.9 91.5,446.7 C92.3,448.5 95.4,454.5 97.1,456.9 C98.8,459.3 105.1,465.7 107.2,468.1 C109.3,470.5 114.3,476.0 116.2,478.2 C118.1,480.4 122.8,486.1 124.0,488.3 C125.2,490.5 127.0,496.3 127.4,498.4 C127.8,500.5 127.8,505.5 127.4,507.4 C127.0,509.3 125.2,513.9 124.0,515.3 C122.8,516.7 117.2,519.4 116.2,520.4 C115.2,521.4 115.1,523.2 115.1,524.3 C115.1,525.4 116.9,528.5 116.6,529.9 C116.3,531.3 113.7,535.6 112.8,537.1 C111.9,538.6 108.7,542.7 108.3,543.8 C107.9,544.9 108.5,546.4 109.4,546.7 C110.3,547.0 114.9,545.6 116.2,546.1 C117.5,546.6 119.9,549.9 120.7,551.2 C121.5,552.5 123.3,556.0 123.6,558.0 C123.9,560.0 123.8,567.0 123.6,569.2 C123.4,571.4 121.8,576.3 121.8,578.2 C121.8,580.1 123.4,584.2 124.0,586.1 C124.6,588.0 126.5,593.1 127.0,595.1 C127.5,597.1 127.8,602.1 128.5,604.5 C129.2,606.9 132.7,613.8 133.0,616.4 C133.3,619.0 130.5,625.2 130.8,627.6 C131.1,630.0 134.6,636.1 135.3,638.2 C136.0,640.3 136.6,644.2 137.5,646.1 C138.4,648.0 141.7,653.8 143.1,655.1 C144.5,656.4 148.3,657.6 149.9,658.0 C151.5,658.4 156.9,659.0 157.8,659.1" fill="none" stroke="#000" stroke-width="0.75" stroke-linejoin="round" stroke-linecap="round"/>
<path d="M137.5,646.1 C136.4,646.3 131.0,647.9 127.4,648.3 C123.8,648.7 109.9,649.2 104.9,649.9 C99.9,650.6 87.3,654.1 82.5,654.4 C77.7,654.7 64.3,653.0 62.0,652.8" fill="none" stroke="#000" stroke-width="0.75" stroke-linejoin="round" stroke-linecap="round"/>
<path d="M383.8,437.5 C382.5,437.3 374.0,434.7 372.1,435.3 C370.2,435.9 368.5,441.1 366.5,442.5 C364.5,443.9 357.3,446.6 354.2,448.1 C351.1,449.6 341.4,454.3 338.4,456.0 C335.4,457.7 329.1,461.9 327.2,463.8 C325.3,465.7 321.5,470.6 320.9,472.8 C320.3,475.0 321.9,481.9 322.2,484.0 C322.5,486.1 325.2,490.4 323.8,491.5 C322.4,492.6 312.4,494.0 309.2,494.2 C306.0,494.4 296.6,492.4 294.6,493.0 C292.6,493.6 293.1,498.0 291.5,499.6 C289.9,501.2 283.0,505.4 280.2,507.4 C277.4,509.4 267.8,513.8 266.7,517.5 C265.6,521.2 267.3,538.4 270.1,541.1 C272.9,543.8 287.9,541.1 291.5,541.6 C295.1,542.1 301.2,546.2 302.5,545.8 C303.8,545.4 303.0,538.5 303.6,538.0 C304.2,537.5 307.8,540.3 308.1,541.3 C308.4,542.3 305.6,546.0 306.5,547.0 C307.4,548.0 313.7,549.7 316.0,550.3 C318.3,550.9 325.3,552.7 327.2,552.6 C329.1,552.5 331.3,548.5 332.8,549.2 C334.3,549.9 338.8,556.8 340.7,559.3 C342.6,561.8 346.5,570.5 349.7,571.7 C352.9,572.9 365.4,570.1 369.9,570.1 C374.4,570.1 386.6,570.9 390.1,571.7 C393.6,572.5 398.8,576.9 401.3,577.3 C403.8,577.7 410.1,575.3 412.6,575.1 C415.1,574.9 420.7,575.6 423.8,575.7 C426.9,575.8 438.8,576.1 440.7,576.2" fill="none" stroke="#000" stroke-width="0.75" stroke-linejoin="round" stroke-linecap="round"/>
<path d="M403.6,435.7 C404.2,436.8 407.5,443.4 409.2,445.8 C410.9,448.2 416.7,454.7 419.3,457.1 C421.9,459.5 429.3,465.2 432.8,467.2 C436.3,469.2 447.8,474.3 450.8,475.1 C453.8,475.9 458.3,474.2 459.8,474.6 C461.3,475.0 462.6,478.1 464.3,478.4 C466.0,478.7 473.0,477.7 475.5,477.3 C478.0,476.9 485.2,475.9 486.7,475.1 C488.2,474.3 487.9,470.7 489.0,469.9 C490.1,469.1 495.5,468.0 496.9,468.3 C498.3,468.6 499.7,472.4 501.3,472.8 C502.9,473.2 509.9,470.9 511.5,471.7 C513.1,472.5 515.0,479.6 516.0,480.2 C517.0,480.8 518.7,477.2 520.2,477.1 C521.7,477.0 527.9,478.3 529.2,479.3 C530.5,480.3 530.5,485.3 531.5,486.1 C532.5,486.9 535.7,485.7 538.2,486.7 C540.7,487.7 551.6,493.8 553.9,495.1 C556.2,496.4 557.1,497.3 558.9,498.4 C560.7,499.5 567.0,503.8 569.7,505.2 C572.4,506.6 580.4,510.0 583.1,510.8 C585.8,511.6 592.7,512.5 594.4,512.4 C596.1,512.3 598.3,511.0 598.4,509.7 C598.5,508.4 595.8,502.5 595.5,500.7 C595.2,498.9 594.4,495.0 595.5,493.9 C596.6,492.8 603.7,491.6 605.6,491.2 C607.5,490.8 611.1,490.5 612.4,490.6 C613.7,490.7 615.4,492.5 616.9,492.1 C618.4,491.7 623.7,488.2 625.8,487.2 C627.9,486.2 634.4,483.2 635.5,482.7" fill="none" stroke="#000" stroke-width="0.75" stroke-linejoin="round" stroke-linecap="round"/>
<path d="M501.3,472.8 C501.9,474.2 506.2,483.0 507.0,485.2 C507.8,487.4 510.1,492.1 508.8,493.0 C507.5,493.9 498.5,492.7 495.7,493.0 C492.9,493.3 484.4,494.7 483.4,496.0 C482.4,497.3 485.6,502.1 486.7,504.3 C487.8,506.5 493.5,513.1 493.5,515.5 C493.5,517.9 488.3,523.4 486.7,525.6 C485.1,527.8 480.8,534.6 478.9,535.7 C477.0,536.8 471.3,534.7 469.9,535.3 C468.5,535.9 468.6,540.3 466.5,541.3 C464.4,542.3 454.5,544.0 450.8,544.7 C447.1,545.4 436.8,547.2 432.8,547.6 C428.8,548.0 416.8,548.0 414.8,548.1" fill="none" stroke="#000" stroke-width="0.75" stroke-linejoin="round" stroke-linecap="round"/>
<path d="M478.9,535.7 C479.4,536.7 482.9,542.6 483.4,544.7 C483.9,546.8 483.0,553.6 483.4,554.8 C483.8,556.0 485.3,556.0 486.7,555.3 C488.1,554.6 493.9,549.7 495.7,548.1 C497.5,546.5 501.4,543.0 502.5,541.3 C503.6,539.6 504.6,533.2 505.8,532.4 C507.0,531.6 512.3,534.0 513.7,534.2 C515.1,534.4 516.2,534.1 518.0,534.4 C519.8,534.7 528.9,536.4 530.3,536.6" fill="none" stroke="#000" stroke-width="0.75" stroke-linejoin="round" stroke-linecap="round"/>
<path d="M500.0,492.8 L509.0,492.8" fill="none" stroke="#000" stroke-width="0.75" stroke-linejoin="round" stroke-linecap="round"/>
<path d="M553.9,495.1 C553.7,496.5 552.4,504.6 552.1,507.4 C551.8,510.2 552.2,518.7 551.2,520.4 C550.2,522.1 544.6,522.2 542.7,523.1 C540.8,524.0 535.1,527.3 533.7,528.8 C532.3,530.3 529.9,535.2 530.3,536.6 C530.7,538.0 536.5,540.1 537.1,541.1 C537.7,542.1 535.5,544.6 536.0,545.6 C536.5,546.6 541.0,548.4 541.6,550.1 C542.2,551.8 541.2,559.3 541.6,561.3 C542.0,563.3 545.2,566.6 544.9,568.1 C544.6,569.6 540.3,573.1 539.3,574.8 C538.3,576.5 536.5,581.8 536.0,583.8 C535.5,585.8 535.6,590.8 534.8,592.8 C534.0,594.8 529.7,599.8 529.2,601.8 C528.7,603.8 529.8,609.0 530.3,611.2 C530.8,613.4 533.0,619.4 533.7,621.3 C534.4,623.2 536.9,626.8 536.4,628.1 C535.9,629.4 530.9,631.5 529.2,632.6 C527.5,633.7 521.4,637.0 520.7,638.2 C520.0,639.4 522.8,641.8 522.9,643.8 C523.0,645.8 522.1,654.8 522.0,656.2" fill="none" stroke="#000" stroke-width="0.75" stroke-linejoin="round" stroke-linecap="round"/>
<path d="M636.6,505.2 C637.7,504.4 643.8,498.5 646.1,497.8 C648.4,497.1 654.6,498.7 657.3,498.9 C660.0,499.1 668.8,498.2 670.3,499.6 C671.8,501.0 670.2,509.8 670.8,511.9 C671.4,514.0 673.8,517.6 675.3,518.7 C676.8,519.8 682.6,521.4 684.3,522.0 C686.0,522.6 690.0,523.3 691.0,524.3 C692.0,525.3 693.8,528.9 693.7,531.0 C693.6,533.1 689.7,541.7 689.9,543.4 C690.1,545.1 694.5,545.6 695.5,546.7 C696.5,547.8 698.5,551.4 698.9,553.5 C699.3,555.6 699.5,563.6 698.9,565.8 C698.3,568.0 695.1,572.1 693.3,573.7 C691.5,575.3 684.6,578.5 683.1,580.4 C681.6,582.3 680.5,588.3 679.8,590.6 C679.1,592.9 676.4,600.0 677.1,600.7 C677.8,601.4 684.1,597.2 686.5,597.3 C688.9,597.4 697.4,599.3 698.9,601.3 C700.4,603.3 700.4,611.9 700.4,615.3 C700.4,618.7 699.4,629.0 698.9,631.5 C698.4,634.0 696.9,637.3 695.5,638.2 C694.1,639.1 687.9,639.5 686.5,640.0 C685.1,640.5 683.0,641.2 682.5,642.7 C682.0,644.2 681.9,651.8 681.6,653.9 C681.3,656.0 680.6,660.9 679.8,661.8 C679.0,662.7 675.3,661.4 674.2,661.8 C673.1,662.2 670.6,664.0 669.7,665.2 C668.8,666.4 667.7,671.6 666.3,673.0 C664.9,674.4 659.4,676.4 657.3,677.5 C655.2,678.6 648.3,682.5 647.2,683.1" fill="none" stroke="#000" stroke-width="0.75" stroke-linejoin="round" stroke-linecap="round"/>
<path d="M579.8,683.1 C579.4,684.4 577.2,692.1 576.4,694.4 C575.6,696.7 572.6,701.9 572.4,703.4 C572.2,704.9 572.8,707.5 574.2,707.9 C575.6,708.3 583.0,707.5 585.4,707.4 C587.8,707.3 593.6,707.8 595.5,706.7 C597.4,705.6 600.6,699.7 602.2,697.8 C603.8,695.9 609.0,692.3 610.1,689.9 C611.2,687.5 611.5,679.4 611.9,676.4 C612.3,673.4 612.9,665.5 613.5,662.9 C614.1,660.3 615.8,654.8 616.9,652.8 C618.0,650.8 622.2,647.8 623.1,644.9 C624.0,642.0 624.1,629.7 624.7,627.0 C625.3,624.3 627.1,621.2 628.1,620.2 C629.1,619.2 632.6,618.3 633.7,618.4 C634.8,618.5 637.3,620.2 638.2,621.3 C639.1,622.4 641.8,626.5 642.0,628.1 C642.2,629.7 640.4,634.1 640.4,636.0 C640.4,637.9 641.9,642.7 641.6,644.9 C641.3,647.1 638.4,653.7 637.5,656.2 C636.6,658.7 634.0,665.4 633.7,667.4 C633.4,669.4 633.3,672.5 634.8,674.2 C636.3,675.9 644.2,681.1 647.2,683.1 C650.2,685.1 658.4,690.3 661.8,692.1 C665.2,693.9 674.3,697.8 677.5,698.9 C680.7,700.0 688.1,701.5 691.0,702.2 C693.9,702.9 701.4,704.1 703.4,705.2 C705.4,706.3 707.6,710.5 709.0,712.4 C710.4,714.3 713.5,720.0 715.7,722.5 C717.9,725.0 726.0,732.2 729.2,734.8 C732.4,737.4 741.2,743.6 744.9,746.1 C748.6,748.6 758.9,754.9 762.9,757.3 C766.9,759.7 776.9,765.2 780.9,767.4 C784.9,769.6 795.0,775.4 798.9,777.5 C802.8,779.6 813.8,785.1 815.7,786.1" fill="none" stroke="#000" stroke-width="0.75" stroke-linejoin="round" stroke-linecap="round"/>
<path d="M580.4,707.9 C580.3,709.0 580.2,716.6 579.8,718.0 C579.4,719.4 577.5,720.5 576.4,720.2 C575.3,719.9 570.9,715.9 569.7,715.7 C568.5,715.5 566.2,716.9 565.6,718.0 C565.0,719.1 565.6,723.9 564.7,725.8 C563.8,727.7 558.9,732.4 557.3,734.8 C555.7,737.2 552.3,745.7 550.6,747.2 C548.9,748.7 543.4,747.1 541.6,748.3 C539.8,749.5 536.1,757.3 534.8,758.4 C533.5,759.5 531.4,759.5 530.3,758.4 C529.2,757.3 525.9,750.5 525.2,748.3 C524.5,746.1 524.7,739.7 523.6,738.9 C522.5,738.1 518.0,741.3 515.7,741.1 C513.4,740.9 504.1,735.7 502.5,737.1 C500.9,738.5 502.8,751.4 501.3,753.3 C499.8,755.2 491.3,754.2 489.0,754.6 C486.7,755.0 481.6,757.6 480.4,756.9 C479.2,756.2 478.8,750.0 477.8,748.3 C476.8,746.6 473.3,742.5 471.0,742.0 C468.7,741.5 460.7,742.9 457.5,743.4 C454.3,743.9 444.5,745.8 441.8,746.5 C439.1,747.2 433.7,751.4 432.8,750.1 C431.9,748.8 433.6,737.7 433.5,734.8 C433.4,731.9 432.5,725.8 431.7,723.6 C430.9,721.4 427.1,716.8 426.1,714.6 C425.1,712.4 423.6,705.9 422.7,703.4 C421.8,700.9 418.9,694.8 418.2,692.1 C417.5,689.4 416.1,681.2 416.0,678.7 C415.9,676.2 417.0,670.7 417.1,669.7" fill="none" stroke="#000" stroke-width="0.75" stroke-linejoin="round" stroke-linecap="round"/>
<path d="M749.0,298.2 C748.7,299.9 746.9,310.7 746.1,313.9 C745.3,317.1 742.6,324.6 741.6,327.4 C740.6,330.2 737.7,336.2 737.1,338.7 C736.5,341.2 736.1,348.0 736.4,349.9 C736.7,351.8 739.2,354.8 740.0,356.2 C740.8,357.6 742.8,361.4 743.8,362.2 C744.8,363.0 748.5,362.6 749.0,363.4 C749.5,364.2 748.8,368.0 748.3,369.0 C747.8,370.0 743.6,371.7 744.5,372.4 C745.4,373.1 754.4,374.8 756.2,375.7 C758.0,376.6 759.6,378.8 760.7,380.2 C761.8,381.6 764.9,386.8 766.3,388.1 C767.7,389.4 772.3,390.5 773.0,391.5 C773.7,392.5 772.5,396.2 773.0,397.1 C773.5,398.0 777.0,398.4 777.5,399.3 C778.0,400.2 776.7,404.6 777.5,404.9 C778.3,405.2 783.3,401.2 784.3,401.6 C785.3,402.0 785.6,406.9 786.5,408.3 C787.4,409.7 790.6,413.6 792.1,413.9 C793.6,414.2 798.2,411.1 800.0,411.2 C801.8,411.3 806.2,414.0 807.9,415.1 C809.6,416.2 814.0,420.3 815.7,420.7 C817.4,421.1 822.3,418.3 823.6,418.4 C824.9,418.5 826.5,420.8 827.0,421.8 C827.5,422.8 827.0,426.2 828.1,427.4 C829.2,428.6 835.1,431.7 837.1,433.0 C839.1,434.3 844.1,437.7 846.1,438.7 C848.1,439.7 852.6,441.7 855.1,442.0 C857.6,442.3 866.3,441.9 868.5,441.6 C870.7,441.3 874.1,439.1 875.3,439.1 C876.5,439.1 878.5,440.6 879.1,442.0 C879.7,443.4 879.8,450.9 880.9,451.7 C882.0,452.5 887.2,449.6 888.8,449.4 C890.4,449.2 894.5,449.5 895.5,449.9 C896.5,450.3 897.4,451.9 897.8,453.3 C898.2,454.7 898.2,461.5 898.9,462.5 C899.6,463.5 903.4,461.8 904.5,462.0 C905.6,462.2 908.6,463.5 909.0,464.3 C909.4,465.1 907.6,468.2 907.9,469.2 C908.2,470.2 911.6,472.2 911.7,473.3 C911.8,474.4 908.8,478.4 909.0,478.7 C909.2,479.0 912.5,476.4 913.5,476.0 C914.5,475.6 917.5,474.3 918.0,474.8 C918.5,475.3 918.9,478.8 918.4,480.4 C917.9,482.0 914.8,487.9 913.5,489.4 C912.2,490.9 907.5,492.8 906.7,493.9 C905.9,495.0 906.1,498.6 906.7,498.9 C907.3,499.2 911.4,496.1 912.4,496.2 C913.4,496.3 915.2,498.0 915.3,499.6 C915.4,501.2 912.8,508.8 913.0,510.8 C913.2,512.8 916.3,515.8 916.9,517.5 C917.5,519.2 917.4,524.9 918.0,526.5 C918.6,528.1 922.6,530.2 922.5,532.1 C922.4,534.0 919.2,542.5 916.9,543.8 C914.6,545.1 903.1,543.1 902.2,543.8 C901.3,544.5 908.4,548.9 909.0,550.1 C909.6,551.3 908.8,553.4 907.9,554.6 C907.0,555.8 901.6,559.6 901.1,561.3 C900.6,563.0 903.0,568.3 903.4,570.3 C903.8,572.3 904.6,577.3 904.5,579.3 C904.4,581.3 903.2,586.6 902.2,588.3 C901.2,590.0 896.3,592.9 895.5,594.6 C894.7,596.3 896.1,602.7 895.1,604.0 C894.1,605.3 888.3,605.4 886.5,606.5 C884.7,607.6 880.4,612.8 878.7,613.9 C877.0,615.0 872.0,615.2 870.8,616.2 C869.6,617.2 869.1,621.9 868.1,622.5 C867.1,623.1 862.9,621.3 861.8,622.0 C860.7,622.7 858.3,627.6 857.8,629.2 C857.3,630.8 857.3,634.8 856.9,636.0 C856.5,637.2 853.9,639.0 853.9,640.4 C853.9,641.8 856.7,646.3 857.3,648.3 C857.9,650.3 859.7,656.7 859.6,658.4 C859.5,660.1 857.3,662.9 856.2,663.4 C855.1,663.9 851.0,662.0 850.1,662.9 C849.2,663.8 848.8,669.9 847.9,671.9 C847.0,673.9 842.0,679.6 842.0,680.9 C842.0,682.2 846.9,682.4 848.3,683.6 C849.7,684.8 853.7,689.9 854.6,692.1 C855.5,694.3 856.4,701.2 856.2,703.4 C856.0,705.6 853.8,710.4 852.8,711.9 C851.8,713.4 848.4,715.9 847.2,716.9 C846.0,717.9 842.8,719.8 842.0,721.3 C841.2,722.8 840.2,728.0 840.4,730.3 C840.6,732.6 842.9,738.8 843.8,741.6 C844.7,744.4 848.0,752.8 848.3,755.1 C848.6,757.4 847.0,761.3 846.1,762.2 C845.2,763.1 841.8,763.1 840.4,762.9 C839.0,762.7 835.3,760.3 833.7,760.7 C832.1,761.1 827.4,764.9 825.8,766.3 C824.2,767.7 820.3,771.5 819.1,773.0 C817.9,774.5 815.0,778.3 814.6,779.8 C814.2,781.3 816.4,785.0 815.7,786.1 C815.0,787.2 809.2,789.1 807.9,789.9 C806.6,790.7 804.1,791.9 804.2,793.7 C804.3,795.5 808.0,803.5 809.2,806.1 C810.4,808.7 814.6,814.2 815.4,817.2 C816.2,820.2 815.9,830.8 816.7,833.4 C817.5,836.0 821.5,839.0 822.9,840.8 C824.3,842.6 828.0,847.0 829.1,849.5 C830.2,852.0 832.0,860.4 832.8,863.1 C833.6,865.8 835.3,873.0 836.0,873.8 C836.7,874.6 837.8,871.2 839.0,870.6 C840.2,870.0 844.6,868.9 846.4,868.1 C848.2,867.3 853.7,863.5 855.1,863.1 C856.5,862.7 858.6,863.4 858.9,864.4 C859.2,865.4 857.8,870.0 857.6,871.8 C857.4,873.6 857.0,879.5 856.9,880.5" fill="none" stroke="#000" stroke-width="0.75" stroke-linejoin="round" stroke-linecap="round"/>
<path d="M856.9,880.5 C856.3,881.9 852.8,890.4 851.4,892.9 C850.0,895.4 845.9,900.7 844.0,902.9 C842.1,905.1 836.1,911.0 834.0,912.8 C831.9,914.6 827.2,918.0 825.3,919.0 C823.4,920.0 818.5,921.4 816.7,921.5 C814.9,921.6 810.9,919.6 809.2,919.5 C807.5,919.4 803.5,919.4 801.8,920.2 C800.1,921.0 795.4,924.8 794.3,926.4 C793.2,928.0 793.4,933.2 792.3,934.4 C791.2,935.6 786.7,937.0 784.4,937.6 C782.1,938.2 774.3,940.3 772.0,940.1 C769.7,939.9 765.8,936.3 763.3,935.9 C760.8,935.5 752.8,936.2 749.6,936.4 C746.4,936.6 737.1,937.6 734.7,937.6 C732.3,937.6 730.5,936.8 728.3,936.4 C726.1,936.0 716.9,935.1 714.7,934.4 C712.5,933.7 710.7,930.6 708.5,930.2 C706.3,929.8 697.6,930.3 694.8,930.7 C692.0,931.1 686.2,933.1 683.7,933.9 C681.2,934.7 675.0,937.3 672.5,937.6 C670.0,937.9 663.4,936.3 661.3,936.4 C659.2,936.5 654.6,937.8 653.9,938.8 C653.2,939.8 654.3,943.6 655.1,945.0 C655.9,946.4 660.1,949.8 660.8,951.3 C661.5,952.8 661.8,957.2 661.3,958.7 C660.8,960.2 657.6,963.2 656.4,964.9 C655.2,966.6 651.0,971.3 650.2,973.6 C649.4,975.9 649.3,983.2 648.9,986.0 C648.5,988.8 647.5,996.1 646.4,998.4 C645.3,1000.7 640.9,1005.2 639.0,1007.1 C637.1,1009.0 630.5,1013.9 629.1,1015.8 C627.7,1017.7 626.4,1023.5 626.1,1024.5" fill="none" stroke="#000" stroke-width="0.75" stroke-linejoin="round" stroke-linecap="round"/>
<path d="M856.9,880.5 C858.2,881.5 866.1,886.9 868.8,889.2 C871.5,891.5 878.4,899.1 881.2,901.6 C884.0,904.1 890.8,909.9 893.6,911.5 C896.4,913.1 903.9,915.6 906.0,916.0 C908.1,916.4 911.4,915.8 912.2,915.3 C913.0,914.8 914.0,912.3 913.4,911.5 C912.8,910.7 907.3,908.8 907.2,907.8 C907.1,906.8 912.3,903.9 912.2,902.9 C912.1,901.9 906.5,900.1 906.5,899.1 C906.5,898.1 912.1,895.3 912.2,894.2 C912.3,893.1 906.8,890.6 907.2,889.2 C907.6,887.8 915.6,883.2 915.9,881.8 C916.2,880.4 910.0,878.5 909.7,876.8 C909.4,875.1 912.8,870.2 913.4,866.9 C914.0,863.6 915.8,850.7 915.4,847.0 C915.0,843.3 909.4,835.9 909.7,833.4 C910.0,830.9 916.9,827.2 918.4,824.7 C919.9,822.2 921.9,812.1 923.4,811.0 C924.9,809.9 931.1,814.3 932.1,814.7" fill="none" stroke="#000" stroke-width="0.75" stroke-linejoin="round" stroke-linecap="round"/>
<path d="M896.1,911.5 C897.3,912.6 906.4,919.3 907.2,921.5 C908.0,923.7 904.0,929.2 903.5,931.4 C903.0,933.6 903.1,939.1 902.3,941.3 C901.5,943.5 897.5,949.6 896.1,951.3 C894.7,953.0 890.0,954.8 889.9,956.2 C889.8,957.6 893.0,962.6 894.8,963.7 C896.6,964.8 903.7,965.1 906.0,966.1 C908.3,967.1 913.4,971.4 915.9,972.4 C918.4,973.4 926.5,973.8 928.3,974.8 C930.1,975.8 931.7,980.3 932.1,981.0" fill="none" stroke="#000" stroke-width="0.75" stroke-linejoin="round" stroke-linecap="round"/>
<path d="M932.1,995.9 C931.7,997.0 928.9,1003.8 928.3,1005.9 C927.7,1008.0 927.9,1013.4 927.1,1014.5 C926.3,1015.6 921.7,1014.6 920.9,1015.8 C920.1,1017.0 920.3,1023.8 919.7,1025.7 C919.1,1027.6 915.8,1031.5 915.9,1033.2 C916.0,1034.9 919.5,1039.2 920.9,1040.6 C922.3,1042.0 927.1,1044.6 928.3,1045.6 C929.5,1046.6 931.7,1048.9 932.1,1049.3" fill="none" stroke="#000" stroke-width="0.75" stroke-linejoin="round" stroke-linecap="round"/>
<path d="M932.1,788.7 L928.3,792.4 L929.6,798.6 L932.1,799.9" fill="none" stroke="#000" stroke-width="0.75" stroke-linejoin="round" stroke-linecap="round"/>
<path d="M230.8,1025.7 C232.1,1025.8 241.1,1026.9 242.4,1026.2 C243.7,1025.5 241.7,1020.8 242.4,1019.5 C243.1,1018.2 246.8,1015.2 248.6,1014.5 C250.4,1013.8 256.8,1014.0 258.6,1013.3 C260.4,1012.6 263.4,1008.8 264.8,1007.8 C266.2,1006.8 269.8,1006.2 271.0,1004.6 C272.2,1003.0 274.7,995.3 275.9,993.4 C277.1,991.5 280.6,988.0 282.1,987.2 C283.6,986.4 288.4,985.7 289.6,986.0 C290.8,986.3 292.6,988.2 293.3,989.7 C294.0,991.2 295.1,997.8 296.1,999.7 C297.1,1001.6 300.8,1005.8 302.3,1007.1 C303.8,1008.4 307.9,1010.8 309.8,1011.3 C311.7,1011.8 317.8,1011.4 319.7,1011.3 C321.6,1011.2 325.4,1009.9 327.2,1010.3 C329.0,1010.7 333.6,1015.2 335.8,1015.3 C338.0,1015.4 344.1,1011.6 347.0,1010.8 C349.9,1010.0 359.7,1008.5 361.9,1007.8 C364.1,1007.1 366.0,1005.7 366.9,1004.6 C367.8,1003.5 369.0,998.8 369.8,997.9 C370.6,997.0 373.2,996.2 374.3,996.4 C375.4,996.6 378.5,998.8 379.3,999.7 C380.1,1000.6 381.0,1003.9 381.8,1004.6 C382.6,1005.3 385.7,1006.4 386.7,1006.4 C387.7,1006.4 390.4,1005.5 391.2,1004.6 C392.0,1003.7 392.8,999.6 394.2,998.4 C395.6,997.2 402.4,994.9 404.1,993.9 C405.8,992.9 407.2,990.9 409.1,989.7 C411.0,988.5 419.0,984.7 421.5,983.5 C424.0,982.3 429.8,979.4 431.4,979.1 C433.0,978.8 434.8,979.5 435.9,980.5 C437.0,981.5 439.6,986.2 441.3,988.5 C443.0,990.8 449.0,998.2 451.3,1000.9 C453.6,1003.6 460.5,1011.2 462.4,1012.8 C464.3,1014.4 466.5,1015.0 468.6,1015.3 C470.7,1015.6 478.9,1014.8 481.0,1015.3 C483.1,1015.8 485.9,1018.5 487.2,1019.5 C488.5,1020.5 490.5,1023.9 493.0,1024.5 C495.5,1025.1 506.5,1023.7 509.9,1024.5 C513.3,1025.3 520.6,1030.9 523.6,1031.9 C526.6,1032.9 534.3,1032.6 537.2,1033.2 C540.1,1033.8 546.6,1036.0 549.6,1036.9 C552.6,1037.8 561.7,1040.7 564.5,1041.3 C567.3,1041.9 572.3,1042.7 574.5,1042.6 C576.7,1042.5 582.4,1041.0 584.4,1040.6 C586.4,1040.2 590.6,1040.0 592.3,1038.6 C594.0,1037.2 597.4,1030.2 599.3,1028.2 C601.2,1026.2 607.1,1021.5 609.2,1020.3 C611.3,1019.1 616.5,1017.9 617.9,1017.8 C619.3,1017.7 620.7,1018.8 621.6,1019.5 C622.5,1020.2 624.4,1022.4 626.1,1024.5 C627.8,1026.6 634.1,1035.3 636.5,1038.1 C638.9,1040.9 646.0,1047.3 647.7,1049.3 C649.4,1051.3 651.0,1055.3 651.4,1056.0" fill="none" stroke="#000" stroke-width="0.75" stroke-linejoin="round" stroke-linecap="round"/>
<path d="M457.5,804.8 C458.5,804.8 463.1,808.2 464.9,808.5 C466.7,808.8 472.4,807.1 473.6,807.8 C474.8,808.5 475.3,813.4 476.1,814.7 C476.9,816.0 480.1,818.7 481.0,819.2 C481.9,819.7 483.6,819.7 484.0,819.2 C484.4,818.7 484.6,814.5 484.8,814.7 C485.0,814.9 485.0,819.8 486.0,821.0 C487.0,822.2 491.8,824.6 493.5,825.2 C495.2,825.8 499.8,826.8 500.9,826.7 C502.0,826.6 502.6,824.5 503.4,824.7 C504.2,824.9 507.5,826.7 508.3,828.4 C509.1,830.1 510.3,837.0 510.8,839.6 C511.3,842.2 512.6,849.2 512.6,852.0 C512.6,854.8 511.3,862.1 510.8,864.4 C510.3,866.7 509.1,871.3 508.3,872.3 C507.5,873.3 504.0,872.7 503.4,873.8 C502.8,874.9 502.8,879.8 502.9,881.8 C503.0,883.8 504.2,889.5 504.6,891.7 C505.0,893.9 505.6,900.5 506.4,901.6 C507.2,902.7 510.9,901.0 512.1,901.6 C513.3,902.2 516.2,904.8 517.0,906.6 C517.8,908.4 518.7,915.7 519.5,917.7 C520.3,919.7 524.1,922.7 524.3,924.5 C524.5,926.3 521.7,931.8 521.1,933.9 C520.5,936.0 519.6,942.3 518.6,943.8 C517.6,945.3 513.7,947.4 512.4,947.5 C511.1,947.6 508.4,945.3 507.1,945.0 C505.8,944.7 502.6,945.7 500.9,945.0 C499.2,944.3 493.7,940.0 492.2,938.8 C490.7,937.6 487.9,935.1 487.2,933.9 C486.5,932.7 486.8,928.7 486.0,928.4 C485.2,928.1 481.5,930.9 479.8,931.4 C478.1,931.9 471.8,932.9 470.6,932.6 C469.4,932.3 469.9,929.5 469.1,928.4 C468.3,927.3 463.3,924.4 463.7,922.7 C464.1,921.0 471.9,915.1 472.4,912.8 C472.9,910.5 469.6,904.2 468.6,901.6 C467.6,899.0 464.6,890.9 463.7,889.2 C462.8,887.5 460.8,887.5 460.7,886.7 C460.6,885.9 462.8,882.6 462.4,881.8 C462.0,881.0 458.2,880.5 456.7,879.3 C455.2,878.1 450.2,871.8 448.8,870.6 C447.4,869.4 444.5,868.1 443.8,868.9 C443.1,869.7 443.5,877.0 442.6,878.0 C441.7,879.0 436.5,879.0 435.9,878.0 C435.3,877.0 436.4,871.5 436.9,869.4 C437.4,867.3 440.9,860.6 440.8,859.4 C440.7,858.2 436.7,859.4 435.9,858.2 C435.1,857.0 432.8,850.1 433.4,848.3 C434.0,846.5 439.6,843.7 441.3,842.0 C443.0,840.3 447.3,834.9 448.8,833.4 C450.3,831.9 454.2,830.2 455.0,828.4 C455.8,826.6 455.6,819.4 455.7,817.2 C455.8,815.0 456.0,809.9 456.2,808.5 C456.4,807.1 456.5,804.8 457.5,804.8Z" fill="none" stroke="#000" stroke-width="0.75" stroke-linejoin="round" stroke-linecap="round"/>
<path d="M676.4,600.0 L679.0,602.0 L682.0,600.0" fill="none" stroke="#000" stroke-width="0.75" stroke-linejoin="round" stroke-linecap="round"/>
<path d="M202.0,170.4 C202.8,170.6 207.5,172.1 209.2,172.2 C210.9,172.3 215.7,171.3 217.1,171.6 C218.5,171.9 220.2,174.2 221.6,174.9 C223.0,175.6 228.5,177.3 229.4,177.6" fill="none" stroke="#000" stroke-width="2.6" stroke-linejoin="round" stroke-linecap="round"/>
<path d="M209.2,172.2 L217.1,171.0 L221.6,174.9 L209.2,172.2Z" fill="none" stroke="#000" stroke-width="1.5" stroke-linejoin="round" stroke-linecap="round"/>
<path d="M235.5,178.3 L245.4,179.4" fill="none" stroke="#000" stroke-width="3.0" stroke-linejoin="round" stroke-linecap="round"/>
<path d="M271.0,195.9 C270.9,196.1 270.4,196.6 270.2,196.7 C269.9,196.8 269.1,197.0 268.7,196.9 C268.3,196.9 267.3,196.7 266.9,196.6 C266.5,196.4 265.6,195.9 265.3,195.7 C265.0,195.5 264.5,194.8 264.3,194.6 C264.2,194.3 264.1,193.7 264.2,193.5 C264.3,193.3 264.8,192.8 265.0,192.7 C265.3,192.6 266.1,192.4 266.5,192.5 C266.9,192.5 267.9,192.7 268.3,192.8 C268.7,193.0 269.6,193.5 269.9,193.7 C270.2,193.9 270.7,194.6 270.9,194.8 C271.0,195.1 271.1,195.7 271.0,195.9Z" fill="none" stroke="#000" stroke-width="1.8" stroke-linejoin="round" stroke-linecap="round"/>
<path d="M335.1,223.3 C335.2,223.4 334.7,224.2 334.3,224.5 C333.9,224.9 332.2,226.1 331.4,226.5 C330.6,227.0 328.1,228.3 327.2,228.8 C326.2,229.2 323.6,230.3 322.8,230.6 C321.9,230.9 319.9,231.4 319.4,231.5 C318.8,231.6 318.0,231.5 317.9,231.3 C317.8,231.2 318.3,230.4 318.7,230.1 C319.1,229.7 320.8,228.5 321.6,228.1 C322.4,227.6 324.9,226.3 325.8,225.8 C326.8,225.4 329.4,224.3 330.2,224.0 C331.1,223.7 333.1,223.2 333.6,223.1 C334.2,223.0 335.0,223.1 335.1,223.3Z" fill="none" stroke="#000" stroke-width="1.8" stroke-linejoin="round" stroke-linecap="round"/>
<path d="M296.9,291.2 C296.8,291.3 296.2,291.4 296.0,291.3 C295.7,291.2 295.0,290.9 294.7,290.7 C294.4,290.5 293.6,289.7 293.4,289.4 C293.1,289.1 292.5,288.2 292.4,287.9 C292.2,287.6 292.0,286.8 292.0,286.5 C292.0,286.3 292.1,285.8 292.3,285.6 C292.4,285.5 293.0,285.4 293.2,285.5 C293.5,285.6 294.2,285.9 294.5,286.1 C294.8,286.3 295.6,287.1 295.8,287.4 C296.1,287.7 296.7,288.6 296.8,288.9 C297.0,289.2 297.2,290.0 297.2,290.3 C297.2,290.5 297.1,291.0 296.9,291.2Z" fill="none" stroke="#000" stroke-width="1.8" stroke-linejoin="round" stroke-linecap="round"/>
<path d="M305.9,297.3 C305.8,297.6 305.4,298.1 305.2,298.2 C304.9,298.4 304.2,298.6 303.9,298.6 C303.5,298.6 302.7,298.5 302.3,298.4 C302.0,298.3 301.3,297.8 301.0,297.6 C300.8,297.4 300.4,296.7 300.3,296.4 C300.2,296.2 300.2,295.5 300.3,295.3 C300.4,295.0 300.8,294.5 301.0,294.4 C301.3,294.2 302.0,294.0 302.3,294.0 C302.7,294.0 303.5,294.1 303.9,294.2 C304.2,294.3 304.9,294.8 305.2,295.0 C305.4,295.2 305.8,295.9 305.9,296.2 C306.0,296.4 306.0,297.1 305.9,297.3Z" fill="none" stroke="#000" stroke-width="1.8" stroke-linejoin="round" stroke-linecap="round"/>
<path d="M338.7,303.2 C338.6,303.3 338.3,303.8 338.1,303.9 C337.9,304.0 337.1,304.3 336.8,304.3 C336.5,304.4 335.6,304.3 335.2,304.3 C334.9,304.2 334.0,303.9 333.7,303.8 C333.4,303.6 332.8,303.1 332.6,303.0 C332.5,302.8 332.3,302.2 332.3,302.0 C332.4,301.9 332.7,301.4 332.9,301.3 C333.1,301.2 333.9,300.9 334.2,300.9 C334.5,300.8 335.4,300.9 335.8,300.9 C336.1,301.0 337.0,301.3 337.3,301.4 C337.6,301.6 338.2,302.1 338.4,302.2 C338.5,302.4 338.7,303.0 338.7,303.2Z" fill="none" stroke="#000" stroke-width="1.8" stroke-linejoin="round" stroke-linecap="round"/>
<path d="M240.0,314.3 C240.0,314.6 239.9,315.5 239.8,315.8 C239.7,316.1 239.4,316.7 239.2,316.9 C239.0,317.1 238.6,317.3 238.4,317.3 C238.2,317.3 237.8,317.1 237.6,316.9 C237.4,316.7 237.1,316.1 237.0,315.8 C236.9,315.5 236.8,314.6 236.8,314.3 C236.8,314.0 236.9,313.1 237.0,312.8 C237.1,312.5 237.4,311.9 237.6,311.7 C237.8,311.5 238.2,311.3 238.4,311.3 C238.6,311.3 239.0,311.5 239.2,311.7 C239.4,311.9 239.7,312.5 239.8,312.8 C239.9,313.1 240.0,314.0 240.0,314.3Z" fill="none" stroke="#000" stroke-width="1.8" stroke-linejoin="round" stroke-linecap="round"/>
<path d="M392.6,328.6 C392.6,329.1 392.6,330.2 392.5,330.6 C392.3,331.0 391.8,331.9 391.5,332.2 C391.3,332.4 390.4,332.9 390.1,332.9 C389.7,333.0 388.7,332.9 388.4,332.7 C388.1,332.6 387.2,331.9 387.0,331.6 C386.8,331.2 386.3,330.2 386.2,329.8 C386.2,329.3 386.2,328.2 386.3,327.8 C386.5,327.4 387.0,326.5 387.3,326.2 C387.5,326.0 388.4,325.5 388.7,325.5 C389.1,325.4 390.1,325.5 390.4,325.7 C390.7,325.8 391.6,326.5 391.8,326.8 C392.0,327.2 392.5,328.2 392.6,328.6Z" fill="none" stroke="#000" stroke-width="1.8" stroke-linejoin="round" stroke-linecap="round"/>
<path d="M406.2,332.5 C406.1,332.7 405.6,333.3 405.4,333.5 C405.1,333.7 404.2,334.0 403.8,334.0 C403.4,334.0 402.3,333.9 401.9,333.8 C401.5,333.7 400.4,333.2 400.1,333.0 C399.8,332.8 399.2,332.1 399.0,331.8 C398.9,331.5 398.8,330.8 398.8,330.5 C398.9,330.3 399.4,329.7 399.6,329.5 C399.9,329.3 400.8,329.0 401.2,329.0 C401.6,329.0 402.7,329.1 403.1,329.2 C403.5,329.3 404.6,329.8 404.9,330.0 C405.2,330.2 405.8,330.9 406.0,331.2 C406.1,331.5 406.2,332.2 406.2,332.5Z" fill="none" stroke="#000" stroke-width="1.8" stroke-linejoin="round" stroke-linecap="round"/>
<path d="M525.7,315.6 C525.6,315.9 525.0,316.4 524.7,316.5 C524.4,316.7 523.6,316.8 523.3,316.8 C523.0,316.8 522.1,316.5 521.8,316.4 C521.5,316.2 520.9,315.6 520.7,315.3 C520.5,315.0 520.2,314.2 520.2,313.9 C520.2,313.6 520.4,312.9 520.5,312.6 C520.6,312.3 521.2,311.8 521.5,311.7 C521.8,311.5 522.6,311.4 522.9,311.4 C523.2,311.4 524.1,311.7 524.4,311.8 C524.7,312.0 525.3,312.6 525.5,312.9 C525.7,313.2 526.0,314.0 526.0,314.3 C526.0,314.6 525.8,315.3 525.7,315.6Z" fill="none" stroke="#000" stroke-width="1.8" stroke-linejoin="round" stroke-linecap="round"/>
<circle cx="293" cy="143.9" r="1.9" fill="#000"/>
<circle cx="272.8" cy="150.2" r="1.9" fill="#000"/>
<circle cx="306.5" cy="232.7" r="1.9" fill="#000"/>
<circle cx="309.5" cy="225.5" r="1.6" fill="#000"/>
<circle cx="312.6" cy="227.3" r="1.6" fill="#000"/>
<circle cx="468" cy="355.5" r="2.0" fill="#000"/>
<circle cx="426.7" cy="381" r="1.6" fill="#000"/>
<circle cx="427.4" cy="386.6" r="1.6" fill="#000"/>
<circle cx="437.3" cy="383.3" r="1.6" fill="#000"/>
<circle cx="525.5" cy="337.8" r="1.6" fill="#000"/>
<circle cx="519.3" cy="313.6" r="0.1" fill="#000"/>

</g>
<line x1="660.2" y1="134" x2="660.2" y2="1055" stroke="#000" stroke-opacity="0.7" stroke-width="0.7" stroke-dasharray="0.7 1.15"/>
<line x1="64" y1="351.9" x2="932" y2="351.9" stroke="#000" stroke-opacity="0.7" stroke-width="0.7" stroke-dasharray="0.7 1.15"/>
<rect x="62.5" y="132.5" width="871" height="923.9" fill="none" stroke="#000" stroke-width="2.88"/>
<path d="M980.1,0.8 H1054.1 V207.7 L1016.9,157.6 L980.1,207.7 Z" fill="#0068a6"/>
<text x="0" y="0" transform="translate(1031.0,68.5) rotate(-90)" text-anchor="middle" font-family="Liberation Sans" font-weight="bold" font-size="39.5" fill="#fff">IFS</text>
<rect x="970.4" y="224.60" width="19.1" height="34.00" fill="#ffffff"/>
<rect x="970.4" y="258.30" width="19.1" height="96.31" fill="#b4fac8"/>
<rect x="970.4" y="354.31" width="19.1" height="96.32" fill="#64ee78"/>
<rect x="970.4" y="450.33" width="19.1" height="96.31" fill="#dcdcfc"/>
<rect x="970.4" y="546.35" width="19.1" height="96.31" fill="#b4b4fc"/>
<rect x="970.4" y="642.36" width="19.1" height="96.31" fill="#8484fc"/>
<rect x="970.4" y="738.38" width="19.1" height="96.32" fill="#e884e4"/>
<rect x="970.4" y="834.39" width="19.1" height="96.31" fill="#c85cc8"/>
<rect x="970.4" y="930.40" width="19.1" height="34.19" fill="#962c96"/>
<rect x="970.45" y="224.65" width="19.05" height="739.65" fill="none" stroke="#000" stroke-width="2.8"/>
<line x1="990.5" y1="258.30" x2="1001.6" y2="258.30" stroke="#000" stroke-width="2.8"/>
<text x="1014.0" y="265.20" font-family="Liberation Sans" font-size="16.67" fill="#000">0.0</text>
<line x1="990.5" y1="354.31" x2="1001.6" y2="354.31" stroke="#000" stroke-width="2.8"/>
<text x="1014.0" y="361.21" font-family="Liberation Sans" font-size="16.67" fill="#000">-1.0</text>
<line x1="990.5" y1="450.33" x2="1001.6" y2="450.33" stroke="#000" stroke-width="2.8"/>
<text x="1014.0" y="457.23" font-family="Liberation Sans" font-size="16.67" fill="#000">-2.0</text>
<line x1="990.5" y1="546.35" x2="1001.6" y2="546.35" stroke="#000" stroke-width="2.8"/>
<text x="1014.0" y="553.25" font-family="Liberation Sans" font-size="16.67" fill="#000">-3.0</text>
<line x1="990.5" y1="642.36" x2="1001.6" y2="642.36" stroke="#000" stroke-width="2.8"/>
<text x="1014.0" y="649.26" font-family="Liberation Sans" font-size="16.67" fill="#000">-4.0</text>
<line x1="990.5" y1="738.38" x2="1001.6" y2="738.38" stroke="#000" stroke-width="2.8"/>
<text x="1014.0" y="745.27" font-family="Liberation Sans" font-size="16.67" fill="#000">-5.0</text>
<line x1="990.5" y1="834.39" x2="1001.6" y2="834.39" stroke="#000" stroke-width="2.8"/>
<text x="1014.0" y="841.29" font-family="Liberation Sans" font-size="16.67" fill="#000">-6.0</text>
<line x1="990.5" y1="930.40" x2="1001.6" y2="930.40" stroke="#000" stroke-width="2.8"/>
<text x="1014.0" y="937.30" font-family="Liberation Sans" font-size="16.67" fill="#000">-7.0</text>

<defs><clipPath id="lc"><circle cx="85" cy="53.2" r="30.2"/></clipPath></defs>
<g clip-path="url(#lc)">
<rect x="50" y="20" width="70" height="7.8" fill="#0020c8"/>
<rect x="50" y="32" width="70" height="4" fill="#0020c8"/>
<rect x="50" y="39.2" width="19.5" height="3.2" fill="#0020c8"/>
<rect x="89" y="39.2" width="31" height="3.2" fill="#0020c8"/>
<rect x="101.3" y="44.2" width="20" height="1.9" fill="#0020c8"/>
<rect x="110" y="47.2" width="10" height="1.5" fill="#0020c8"/>
<ellipse cx="78.9" cy="37.6" rx="7.2" ry="3.8" fill="#fff"/>
<ellipse cx="62" cy="43.4" rx="5.6" ry="3.4" fill="#fff"/>
<ellipse cx="95.2" cy="43.6" rx="5.4" ry="3.4" fill="#fff"/>
<ellipse cx="105" cy="47.4" rx="4.6" ry="2.6" fill="#fff"/>
<path d="M69.5,39 L67.5,43 H71 Z M89,39 L91,43 H87.5Z" fill="#fff"/>
<rect x="50" y="52.6" width="70" height="1.4" fill="#606060"/>
<path d="M50,57.8 H70 L71.2,58.9 H50Z" fill="#009000"/>
<path d="M50,60.1 H72.6 L74.8,62 H120 V63 H76 L75,62.2 H50Z" fill="#009000"/>
<rect x="76.4" y="63" width="46" height="1" fill="#8fd08f"/>
<path d="M50,64.3 H79.6 L80,64.8 H120 V66.7 H79.6 L79,67.3 H50Z" fill="#009000"/>
<path d="M81,68.5 H120 V71.5 H84.2Z" fill="#009000"/>
<path d="M50,70.7 H82.2 L86.2,74.6 H50Z" fill="#009000"/>
<path d="M86.6,74.8 H120 V78.8 H91Z" fill="#009000"/>
<path d="M50,78.8 H90.4 L94.4,82.4 V86 H50Z" fill="#009000"/>
<path d="M70.9,57.6 L72,57.6 L95,82.5 L93,84 L86,76 L84,74.8 L81,71 L79,68.5 Z" fill="#fff" opacity="0"/>
</g>
<text x="85.2" y="97.7" text-anchor="middle" font-family="Liberation Sans" font-weight="bold" font-size="15.28" fill="#000">BMKG</text>
</svg>
<div class="t" style="left:149.8px;top:21.6px;font-weight:bold;font-size:27.78px;">Prediksi Lifted Index</div>
<div class="t" style="left:150.4px;top:71.2px;font-weight:bold;font-size:20.83px;">Wilayah Jabodetabek</div>
<div class="t" style="right:324.2px;top:31.4px;font-weight:bold;font-size:17.36px;">Berlaku:</div>
<div class="t" style="left:754.6px;top:31.4px;font-weight:bold;font-size:17.36px;">08 Maret 2026 09 UTC</div>
<div class="t" style="right:324.2px;top:74.9px;font-weight:bold;font-style:italic;font-size:17.36px;">Data Inisial:</div>
<div class="t" style="left:754.6px;top:74.9px;font-weight:bold;font-style:italic;font-size:17.36px;">06 Maret 2026 00 UTC</div>
<div class="t" style="left:61.2px;top:1087px;font-size:17.55px;">Model: IFS 0.125</div>
<div class="t" style="right:134.4px;top:1087px;font-size:17.55px;">Sumber: CIPS BMKG</div>
<div class="t" style="left:638.4px;top:1065.2px;font-size:17.0px;">107°E</div>
<div class="t" style="right:1015.3px;top:342.8px;font-size:17.0px;">6°S</div>
<div class="t" style="right:134.1px;top:1044.7px;font-size:9.72px;letter-spacing:0.4px;">©Sub Bidang Prediksi Cuaca BMKG, 2026</div>

</body></html>
